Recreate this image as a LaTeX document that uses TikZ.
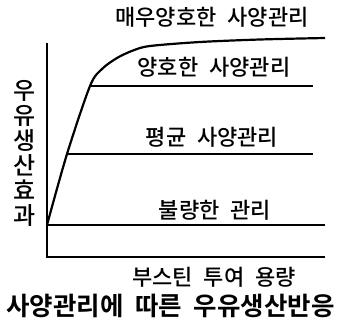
\documentclass[tikz,border=0pt]{standalone}
\usepackage{fontspec}
\newfontfamily\kr[WordSpace=2.2]{Noto Sans CJK KR Medium}
\newfontfamily\krb[WordSpace=2.0]{Noto Sans CJK KR Bold}
\begin{document}
\begin{tikzpicture}[x=1pt,y=-1pt,
  lbl/.style={inner sep=0pt, font=\kr\fontsize{22}{24}\selectfont},
  ax/.style={line width=2pt},
  lvl/.style={line width=1.8pt},
  crv/.style={line width=2.2pt, line join=round}]
\useasboundingbox (0,0) rectangle (345,324);
\coordinate (O) at (47,257);
\coordinate (T) at (47,43);
\coordinate (X) at (325,257);
\coordinate (B0) at (47,225);
\coordinate (B1) at (325,225);
\coordinate (A0) at (67,154);
\coordinate (A1) at (313,154);
\coordinate (G0) at (90,86);
\coordinate (G1) at (313,86);
\coordinate (V1) at (325,38);
% axes
\draw[ax] (T) -- (O) -- (X);
% level lines
\draw[lvl] (B0) -- (B1);
\draw[lvl] (A0) -- (A1);
\draw[lvl] (G0) -- (G1);
% response curve
\draw[crv] plot[smooth, tension=0.5] coordinates {(B0) (A0) (G0) (102,69) (117,58) (133,50.5) (150,46) (200,42) (260,39.5) (V1)};
% labels
\node[lbl] (tv) at (212,17) {매우양호한 사양관리};
\node[lbl] (tg) at (214,67) {양호한 사양관리};
\node[lbl] (ta) at (212,137) {평균 사양관리};
\node[lbl] (tb) at (215,210.5) {불량한 관리};
\node[lbl] (tx) at (214,277) {부스틴 투여 용량};
\node[inner sep=0pt, align=center, font=\kr\fontsize{24}{25}\selectfont] (ty) at (25,153.5) {우\\유\\생\\산\\효\\과};
\node[inner sep=0pt, font=\krb\fontsize{25.5}{27}\selectfont] (title) at (170.5,305.5) {사양관리에 따른 우유생산반응};
\end{tikzpicture}
\end{document}
